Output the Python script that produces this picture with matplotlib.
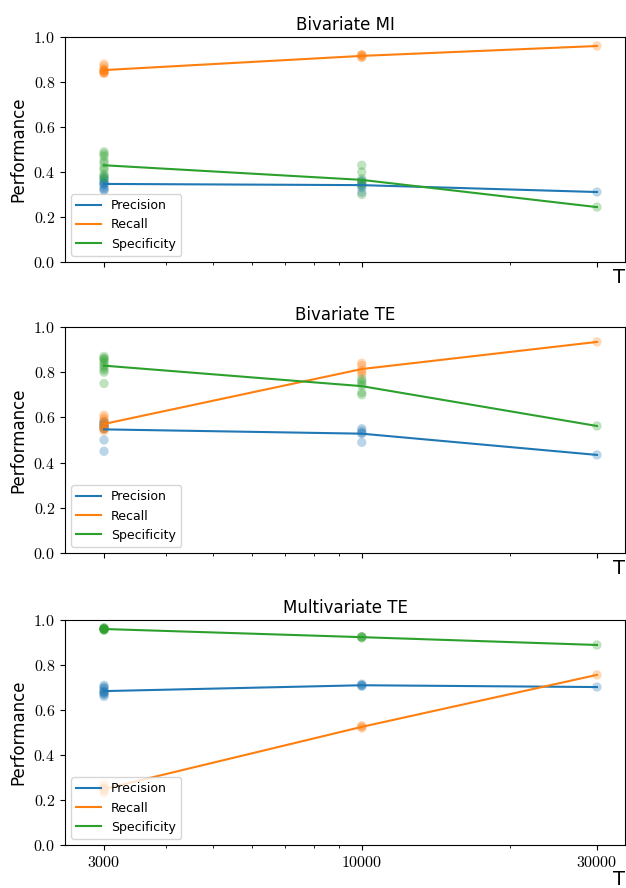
import numpy as np
import matplotlib
matplotlib.use("Agg")
import matplotlib.pyplot as plt
from matplotlib.ticker import FixedLocator, FixedFormatter, LogLocator, NullFormatter

plt.rcParams["font.family"] = ["DejaVu Sans"]
plt.rcParams["mathtext.fontset"] = "cm"

T_values = [3000, 10000, 30000]
metrics = ["Precision", "Recall", "Specificity"]
colors = ["tab:blue", "tab:orange", "tab:green"]
titles = ["Bivariate MI", "Bivariate TE", "Multivariate TE"]

# Repeated runs per sample size T (one list per T)
mi_precision = [[0.32, 0.32, 0.33, 0.34, 0.35, 0.36, 0.37, 0.38, 0.35, 0.35],
                [0.31, 0.33, 0.34, 0.35, 0.36, 0.36],
                [0.311]]
mi_recall = [[0.84, 0.84, 0.85, 0.85, 0.85, 0.84, 0.86, 0.87, 0.88, 0.85],
             [0.91, 0.92, 0.92, 0.91, 0.92],
             [0.96]]
mi_specificity = [[0.49, 0.48, 0.47, 0.45, 0.44, 0.42, 0.41, 0.39, 0.38, 0.37],
                  [0.43, 0.40, 0.30, 0.35, 0.37, 0.34],
                  [0.244]]

bte_precision = [[0.58, 0.58, 0.57, 0.57, 0.56, 0.56, 0.55, 0.55, 0.50, 0.45],
                 [0.55, 0.54, 0.53, 0.53, 0.49],
                 [0.434]]
bte_recall = [[0.61, 0.60, 0.59, 0.58, 0.57, 0.56, 0.56, 0.55, 0.55, 0.54],
              [0.84, 0.83, 0.81, 0.80, 0.79],
              [0.934]]
bte_specificity = [[0.87, 0.86, 0.86, 0.85, 0.84, 0.83, 0.82, 0.81, 0.80, 0.75],
                   [0.77, 0.76, 0.75, 0.74, 0.70, 0.71],
                   [0.562]]

mte_precision = [[0.71, 0.70, 0.70, 0.69, 0.68, 0.68, 0.67, 0.67, 0.66, 0.68],
                 [0.715, 0.71, 0.705, 0.71],
                 [0.702]]
mte_recall = [[0.27, 0.26, 0.25, 0.25, 0.24, 0.24, 0.23, 0.25, 0.25, 0.25],
              [0.53, 0.52, 0.525],
              [0.756]]
mte_specificity = [[0.965, 0.96, 0.96, 0.955, 0.96, 0.965, 0.96, 0.955, 0.96, 0.96],
                   [0.925, 0.92, 0.925, 0.925],
                   [0.889]]

panels = [
    [mi_precision, mi_recall, mi_specificity],
    [bte_precision, bte_recall, bte_specificity],
    [mte_precision, mte_recall, mte_specificity],
]

fig = plt.figure(figsize=(6.26, 8.88), dpi=100)
left, width = 65 / 626, 560 / 626
rects = [(37, 262), (327, 553), (620, 845)]

yticks = [0.0, 0.2, 0.4, 0.6, 0.8, 1.0]
for i, (top, bottom) in enumerate(rects):
    ax = fig.add_axes([left, 1 - bottom / 888, width, (bottom - top) / 888])
    for name, color, runs in zip(metrics, colors, panels[i]):
        for t, vals in zip(T_values, runs):
            ax.scatter([t] * len(vals), vals, s=45, color=color, alpha=0.3,
                       edgecolors="none", zorder=2)
        means = [np.mean(v) for v in runs]
        ax.plot(T_values, means, color=color, lw=1.5, label=name, zorder=3)

    ax.set_xscale("log")
    ax.set_xlim(2500, 34200)
    ax.set_ylim(0, 1)
    ax.xaxis.set_major_locator(FixedLocator(T_values))
    ax.xaxis.set_minor_locator(LogLocator(base=10, subs=np.arange(2, 10)))
    ax.xaxis.set_minor_formatter(NullFormatter())
    if i == 2:
        ax.xaxis.set_major_formatter(FixedFormatter([f"${t}$" for t in T_values]))
    else:
        ax.xaxis.set_major_formatter(NullFormatter())
    ax.yaxis.set_major_locator(FixedLocator(yticks))
    ax.yaxis.set_major_formatter(FixedFormatter([f"${y:.1f}$" for y in yticks]))
    ax.tick_params(axis="both", which="major", labelsize=11.5)
    ax.tick_params(axis="y", right=True, direction="out")
    ax.set_title(titles[i], fontsize=12, pad=5)
    ax.set_ylabel("Performance", fontsize=12)
    ax.set_xlabel("T", fontsize=14, loc="right", labelpad=0 if i == 2 else -3)
    ax.legend(loc="lower left", fontsize=9)

fig.savefig("out.png", dpi=100)
